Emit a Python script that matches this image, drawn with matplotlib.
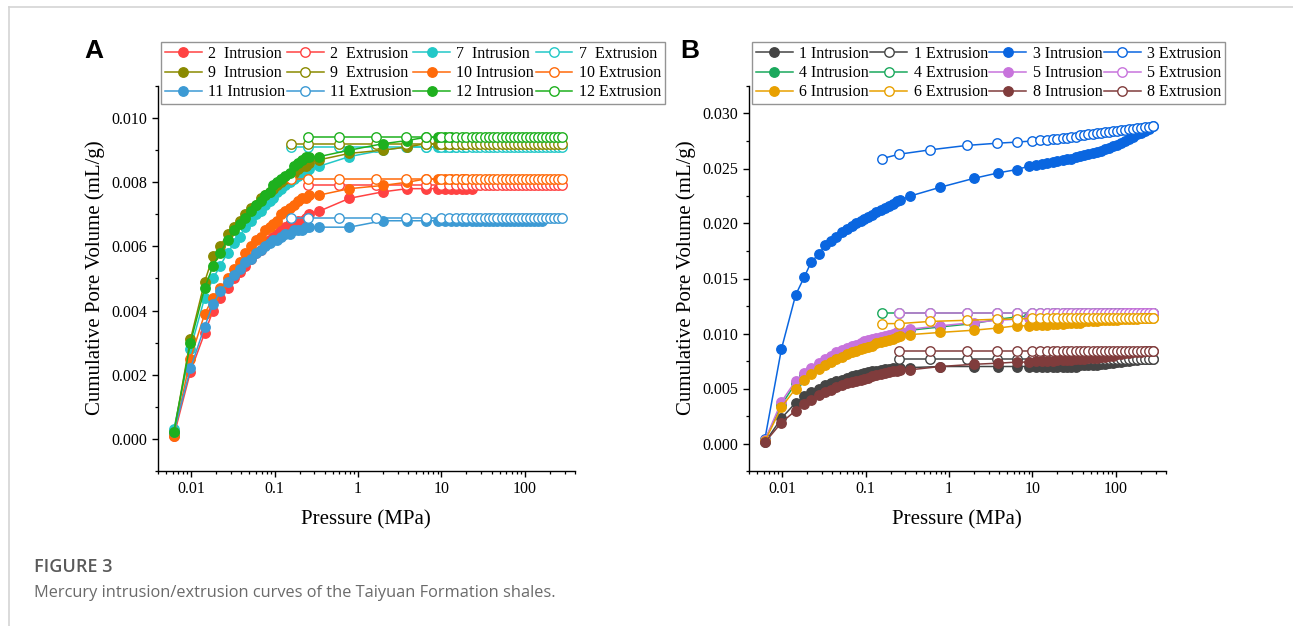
import matplotlib
matplotlib.use("Agg")
import matplotlib.pyplot as plt
from matplotlib.ticker import (FixedLocator, FixedFormatter, LogLocator,
                               NullFormatter, MultipleLocator, FormatStrFormatter)
from matplotlib.lines import Line2D

plt.rcParams['font.family'] = ['Liberation Serif', 'DejaVu Serif']

# pressure steps (MPa) of the intrusion and extrusion runs
P_IN = [0.0062, 0.0098, 0.0145, 0.0183, 0.0223, 0.0273, 0.0328, 0.038, 0.0445, 0.052, 0.0603, 0.0687,
        0.0773, 0.087, 0.097, 0.107, 0.119, 0.134, 0.151, 0.169, 0.191, 0.213, 0.238, 0.256,
        0.344, 0.79, 1.98, 3.88, 6.45, 9.0, 11.0, 13.0, 15.0, 17.5, 20.0, 23.0,
        26.0, 29.0, 33.0, 37.0, 42.0, 47.0, 53.0, 59.0, 66.0, 74.0, 83.0, 93.0,
        104.0, 116.0, 130.0, 145.0, 162.0, 180.0, 200.0, 222.0, 248.0, 280.0]
P_EX = [0.158, 0.253, 0.6, 1.65, 3.8, 6.5, 9.9, 12.5, 15.0, 17.5, 20.0, 23.0,
        26.0, 29.0, 33.0, 37.0, 42.0, 47.0, 53.0, 59.0, 66.0, 74.0, 83.0, 93.0,
        104.0, 116.0, 130.0, 145.0, 162.0, 180.0, 200.0, 222.0, 248.0, 280.0]

# ---- panel A (cumulative pore volume, mL/g) ----
A2_IN = [0.0001, 0.0021, 0.0033, 0.0040, 0.0044, 0.0047, 0.0050, 0.0052, 0.0054, 0.0056, 0.0058, 0.0059,
         0.0061, 0.0062, 0.0063, 0.0064, 0.0065, 0.0066, 0.0067, 0.0067, 0.0068, 0.0068, 0.0069, 0.0070,
         0.0071, 0.0075, 0.0077, 0.0078, 0.0078, 0.0078, 0.0078, 0.0078, 0.0078, 0.0078, 0.0078, 0.0078]
A2_EX = [0.0079, 0.0079, 0.0079, 0.0079, 0.0079, 0.0079, 0.0079, 0.0079, 0.0079, 0.0079, 0.0079,
         0.0079, 0.0079, 0.0079, 0.0079, 0.0079, 0.0079, 0.0079, 0.0079, 0.0079, 0.0079, 0.0079, 0.0079,
         0.0079, 0.0079, 0.0079, 0.0079, 0.0079, 0.0079, 0.0079, 0.0079, 0.0079, 0.0079]
A7_IN = [0.0003, 0.0028, 0.0044, 0.0050, 0.0054, 0.0058, 0.0061, 0.0063, 0.0066, 0.0068, 0.0070, 0.0071,
         0.0073, 0.0074, 0.0075, 0.0077, 0.0078, 0.0079, 0.0080, 0.0081, 0.0082, 0.0083, 0.0083, 0.0084,
         0.0085, 0.0088, 0.0090, 0.0091, 0.0091, 0.0091, 0.0091, 0.0091, 0.0091, 0.0091, 0.0091]
A7_EX = [0.0091, 0.0091, 0.0091, 0.0091, 0.0091, 0.0091, 0.0091, 0.0091, 0.0091, 0.0091, 0.0091, 0.0091,
         0.0091, 0.0091, 0.0091, 0.0091, 0.0091, 0.0091, 0.0091, 0.0091, 0.0091, 0.0091, 0.0091, 0.0091,
         0.0091, 0.0091, 0.0091, 0.0091, 0.0091, 0.0091, 0.0091, 0.0091, 0.0091, 0.0091]
A9_IN = [0.0002, 0.0031, 0.0049, 0.0057, 0.0060, 0.0064, 0.0066, 0.0068, 0.0070, 0.0072, 0.0073, 0.0075,
         0.0076, 0.0077, 0.0078, 0.0079, 0.0080, 0.0081, 0.0082, 0.0083, 0.0084, 0.0085, 0.0085, 0.0086,
         0.0087, 0.0089, 0.0090, 0.0091, 0.0092, 0.0092, 0.0092, 0.0092, 0.0092, 0.0092, 0.0092]
A9_EX = [0.0092, 0.0092, 0.0092, 0.0092, 0.0092, 0.0092, 0.0092, 0.0092, 0.0092, 0.0092, 0.0092, 0.0092,
         0.0092, 0.0092, 0.0092, 0.0092, 0.0092, 0.0092, 0.0092, 0.0092, 0.0092, 0.0092, 0.0092, 0.0092,
         0.0092, 0.0092, 0.0092, 0.0092, 0.0092, 0.0092, 0.0092, 0.0092, 0.0092, 0.0092]
A10_IN = [0.0001, 0.0025, 0.0039, 0.0044, 0.0047, 0.0050, 0.0053, 0.0055, 0.0058, 0.0060, 0.0062, 0.0063,
          0.0065, 0.0066, 0.0067, 0.0068, 0.0070, 0.0071, 0.0072, 0.0073, 0.0074, 0.0075, 0.0075, 0.0076,
          0.0076, 0.0078, 0.0079, 0.0080, 0.0081, 0.0081, 0.0081, 0.0081, 0.0081, 0.0081, 0.0081]
A10_EX = [0.0081, 0.0081, 0.0081, 0.0081, 0.0081, 0.0081, 0.0081, 0.0081, 0.0081, 0.0081, 0.0081, 0.0081,
          0.0081, 0.0081, 0.0081, 0.0081, 0.0081, 0.0081, 0.0081, 0.0081, 0.0081, 0.0081, 0.0081, 0.0081,
          0.0081, 0.0081, 0.0081, 0.0081, 0.0081, 0.0081, 0.0081, 0.0081, 0.0081, 0.0081]
A11_IN = [0.0002, 0.0022, 0.0035, 0.0042, 0.0046, 0.0049, 0.0051, 0.0053, 0.0055, 0.0056, 0.0058, 0.0059,
          0.0060, 0.0061, 0.0062, 0.0062, 0.0063, 0.0064, 0.0064, 0.0065, 0.0065, 0.0065, 0.0066, 0.0066,
          0.0066, 0.0066, 0.0068, 0.0068, 0.0068, 0.0068, 0.0068, 0.0068, 0.0068, 0.0068, 0.0068, 0.0068,
          0.0068, 0.0068, 0.0068, 0.0068, 0.0068, 0.0068, 0.0068, 0.0068, 0.0068, 0.0068, 0.0068, 0.0068,
          0.0068, 0.0068, 0.0068, 0.0068, 0.0068]
A11_EX = [0.0069, 0.0069, 0.0069, 0.0069, 0.0069, 0.0069, 0.0069, 0.0069, 0.0069, 0.0069, 0.0069, 0.0069,
          0.0069, 0.0069, 0.0069, 0.0069, 0.0069, 0.0069, 0.0069, 0.0069, 0.0069, 0.0069, 0.0069, 0.0069,
          0.0069, 0.0069, 0.0069, 0.0069, 0.0069, 0.0069, 0.0069, 0.0069, 0.0069, 0.0069]
A12_IN = [0.0002, 0.0030, 0.0047, 0.0054, 0.0058, 0.0062, 0.0065, 0.0067, 0.0069, 0.0071, 0.0073, 0.0074,
          0.0076, 0.0077, 0.0079, 0.0080, 0.0081, 0.0082, 0.0083, 0.0085, 0.0086, 0.0087, 0.0088, 0.0088,
          0.0088, 0.0090, 0.0092, 0.0093, 0.0094, 0.0094, 0.0094, 0.0094]
A12_EX = [0.0094, 0.0094, 0.0094, 0.0094, 0.0094, 0.0094, 0.0094, 0.0094, 0.0094, 0.0094, 0.0094,
          0.0094, 0.0094, 0.0094, 0.0094, 0.0094, 0.0094, 0.0094, 0.0094, 0.0094, 0.0094, 0.0094, 0.0094,
          0.0094, 0.0094, 0.0094, 0.0094, 0.0094, 0.0094, 0.0094, 0.0094, 0.0094, 0.0094]

# ---- panel B ----
B1_IN = [0.0001, 0.0023, 0.0037, 0.0043, 0.0047, 0.0050, 0.0053, 0.0055, 0.0057, 0.0058, 0.0060, 0.0061,
         0.0062, 0.0063, 0.0064, 0.0065, 0.0066, 0.0066, 0.0067, 0.0068, 0.0068, 0.0069, 0.0069, 0.0069,
         0.0069, 0.0070, 0.0070, 0.0070, 0.0070, 0.0070, 0.0070, 0.0070, 0.0070, 0.0070, 0.0070, 0.0070,
         0.0070, 0.0070, 0.0070, 0.0071, 0.0071, 0.0071, 0.0071, 0.0071, 0.0072, 0.0072, 0.0073, 0.0073,
         0.0074, 0.0074, 0.0075, 0.0075, 0.0076, 0.0076, 0.0077, 0.0077, 0.0077, 0.0077]
B1_EX = [0.0077, 0.0077, 0.0077, 0.0077, 0.0077, 0.0077, 0.0077, 0.0077, 0.0077, 0.0077, 0.0077, 0.0077,
         0.0077, 0.0077, 0.0077, 0.0077, 0.0077, 0.0077, 0.0077, 0.0077, 0.0077, 0.0077, 0.0077, 0.0077,
         0.0077, 0.0077, 0.0077, 0.0077, 0.0077, 0.0077, 0.0077, 0.0077, 0.0077]
B3_IN = [0.0004, 0.0086, 0.0135, 0.0151, 0.0165, 0.0172, 0.0180, 0.0184, 0.0188, 0.0192, 0.0195, 0.0198,
         0.0200, 0.0202, 0.0204, 0.0206, 0.0208, 0.0210, 0.0212, 0.0214, 0.0216, 0.0218, 0.0220, 0.0221,
         0.0225, 0.0233, 0.0241, 0.0246, 0.0249, 0.0252, 0.0253, 0.0254, 0.0255, 0.0256, 0.0257, 0.0258,
         0.0259, 0.0259, 0.0260, 0.0261, 0.0262, 0.0263, 0.0264, 0.0265, 0.0266, 0.0268, 0.0269, 0.0270,
         0.0271, 0.0273, 0.0275, 0.0277, 0.0279, 0.0281, 0.0282, 0.0284, 0.0286, 0.0289]
B3_EX = [0.0259, 0.0263, 0.0267, 0.0271, 0.0273, 0.0274, 0.0275, 0.0276, 0.0276, 0.0277, 0.0277, 0.0278,
         0.0278, 0.0279, 0.0279, 0.0280, 0.0280, 0.0281, 0.0281, 0.0282, 0.0282, 0.0283, 0.0283, 0.0284,
         0.0284, 0.0285, 0.0285, 0.0286, 0.0286, 0.0287, 0.0287, 0.0288, 0.0288, 0.0289]
B4_IN = [0.0003, 0.0035, 0.0055, 0.0062, 0.0067, 0.0071, 0.0075, 0.0078, 0.0081, 0.0083, 0.0085, 0.0087,
         0.0089, 0.0090, 0.0092, 0.0093, 0.0094, 0.0095, 0.0096, 0.0097, 0.0098, 0.0099, 0.0100, 0.0101,
         0.0103, 0.0106, 0.0109, 0.0113, 0.0115, 0.0116, 0.0116, 0.0116, 0.0117, 0.0117, 0.0117, 0.0117,
         0.0117, 0.0117, 0.0118, 0.0118, 0.0118, 0.0118, 0.0118, 0.0118, 0.0118, 0.0118, 0.0119, 0.0119,
         0.0119, 0.0119, 0.0119, 0.0119, 0.0119, 0.0119, 0.0119, 0.0119, 0.0119, 0.0119]
B4_EX = [0.0119, 0.0119, 0.0119, 0.0119, 0.0119, 0.0119, 0.0119, 0.0119, 0.0119, 0.0119, 0.0119, 0.0119,
         0.0119, 0.0119, 0.0119, 0.0119, 0.0119, 0.0119, 0.0119, 0.0119, 0.0119, 0.0119, 0.0119, 0.0119,
         0.0119, 0.0119, 0.0119, 0.0119, 0.0119, 0.0119, 0.0119, 0.0119, 0.0119, 0.0119]
B5_IN = [0.0003, 0.0038, 0.0057, 0.0064, 0.0069, 0.0073, 0.0077, 0.0080, 0.0083, 0.0085, 0.0087, 0.0089,
         0.0090, 0.0091, 0.0093, 0.0094, 0.0095, 0.0096, 0.0097, 0.0098, 0.0099, 0.0100, 0.0101, 0.0102,
         0.0104, 0.0107, 0.0110, 0.0112, 0.0113, 0.0114, 0.0114, 0.0114, 0.0115, 0.0115, 0.0115, 0.0115,
         0.0116, 0.0116, 0.0116, 0.0116, 0.0117, 0.0117, 0.0117, 0.0117, 0.0117, 0.0118, 0.0118, 0.0118,
         0.0118, 0.0118, 0.0119, 0.0119, 0.0119, 0.0119, 0.0119, 0.0119, 0.0119, 0.0119]
B5_EX = [0.0119, 0.0119, 0.0119, 0.0119, 0.0119, 0.0119, 0.0119, 0.0119, 0.0119, 0.0119, 0.0119,
         0.0119, 0.0119, 0.0119, 0.0119, 0.0119, 0.0119, 0.0119, 0.0119, 0.0119, 0.0119, 0.0119, 0.0119,
         0.0119, 0.0119, 0.0119, 0.0119, 0.0119, 0.0119, 0.0119, 0.0119, 0.0119, 0.0119]
B6_IN = [0.0002, 0.0033, 0.0050, 0.0058, 0.0063, 0.0068, 0.0071, 0.0074, 0.0077, 0.0079, 0.0081, 0.0083,
         0.0084, 0.0086, 0.0087, 0.0088, 0.0089, 0.0091, 0.0092, 0.0093, 0.0094, 0.0095, 0.0097, 0.0098,
         0.0099, 0.0101, 0.0103, 0.0105, 0.0107, 0.0107, 0.0108, 0.0108, 0.0108, 0.0109, 0.0109, 0.0109,
         0.0110, 0.0110, 0.0110, 0.0110, 0.0111, 0.0111, 0.0111, 0.0111, 0.0112, 0.0112, 0.0112, 0.0112,
         0.0112, 0.0113, 0.0113, 0.0113, 0.0113, 0.0113, 0.0114, 0.0114, 0.0114, 0.0114]
B6_EX = [0.0109, 0.0109, 0.0111, 0.0112, 0.0113, 0.0113, 0.0114, 0.0114, 0.0114, 0.0114, 0.0114, 0.0114,
         0.0114, 0.0114, 0.0114, 0.0114, 0.0114, 0.0114, 0.0114, 0.0114, 0.0114, 0.0114, 0.0114, 0.0114,
         0.0114, 0.0114, 0.0114, 0.0114, 0.0114, 0.0114, 0.0114, 0.0114, 0.0114, 0.0114]
B8_IN = [0.0001, 0.0019, 0.0030, 0.0036, 0.0040, 0.0044, 0.0047, 0.0049, 0.0051, 0.0053, 0.0055, 0.0056,
         0.0057, 0.0058, 0.0059, 0.0060, 0.0061, 0.0062, 0.0063, 0.0064, 0.0065, 0.0066, 0.0066, 0.0067,
         0.0067, 0.0070, 0.0072, 0.0073, 0.0074, 0.0074, 0.0075, 0.0075, 0.0075, 0.0075, 0.0076, 0.0076,
         0.0076, 0.0076, 0.0077, 0.0077, 0.0077, 0.0078, 0.0078, 0.0078, 0.0079, 0.0079, 0.0080, 0.0080,
         0.0081, 0.0081, 0.0082, 0.0082, 0.0083, 0.0083, 0.0083, 0.0084, 0.0084, 0.0084]
B8_EX = [0.0084, 0.0084, 0.0084, 0.0084, 0.0084, 0.0084, 0.0084, 0.0084, 0.0084, 0.0084, 0.0084,
         0.0084, 0.0084, 0.0084, 0.0084, 0.0084, 0.0084, 0.0084, 0.0084, 0.0084, 0.0084, 0.0084, 0.0084,
         0.0084, 0.0084, 0.0084, 0.0084, 0.0084, 0.0084, 0.0084, 0.0084, 0.0084, 0.0084]

A_NAMES = ["2  ", "7  ", "9  ", "10 ", "11 ", "12 "]
A_COLORS = ["#ff4242", "#22c8c8", "#8a8a00", "#ff6a0a", "#3c9ad4", "#1eb01e"]
A_IN = [A2_IN, A7_IN, A9_IN, A10_IN, A11_IN, A12_IN]
A_EX = [A2_EX, A7_EX, A9_EX, A10_EX, A11_EX, A12_EX]

B_NAMES = ["1 ", "3 ", "4 ", "5 ", "6 ", "8 "]
B_COLORS = ["#444444", "#0a66e0", "#1aa85c", "#c874dc", "#e8a000", "#803c3c"]
B_IN = [B1_IN, B3_IN, B4_IN, B5_IN, B6_IN, B8_IN]
B_EX = [B1_EX, B3_EX, B4_EX, B5_EX, B6_EX, B8_EX]

W, H = 1293, 626
fig = plt.figure(figsize=(W / 100, H / 100), dpi=100)
MS = 6.8


def px(x, y):
    return x / W, 1 - y / H


def draw_panel(ax, names, colors, ins, exs, ylim, major, minor):
    handles = []
    for name, c, yi, ye in zip(names, colors, ins, exs):
        ax.plot(P_IN[:len(yi)], yi, '-o', color=c, mfc=c, mec=c, ms=MS, lw=1.1, zorder=3)
        ax.plot(P_EX[-len(ye):], ye, '-o', color=c, mfc='white', mec=c, ms=MS, mew=1.0, lw=1.1, zorder=3)
        handles.append((Line2D([], [], color=c, marker='o', mfc=c, mec=c, ms=MS, lw=1.1),
                        name + "Intrusion"))
        handles.append((Line2D([], [], color=c, marker='o', mfc='white', mec=c, ms=MS, mew=1.0, lw=1.1),
                        name + "Extrusion"))
    ax.set_xscale('log')
    ax.set_xlim(0.004, 400)
    ax.set_ylim(*ylim)
    ax.xaxis.set_major_locator(FixedLocator([0.01, 0.1, 1, 10, 100]))
    ax.xaxis.set_major_formatter(FixedFormatter(["0.01", "0.1", "1", "10", "100"]))
    ax.xaxis.set_minor_locator(LogLocator(base=10, subs=(2, 3, 4, 5, 6, 7, 8, 9), numticks=20))
    ax.xaxis.set_minor_formatter(NullFormatter())
    ax.yaxis.set_major_locator(MultipleLocator(major))
    ax.yaxis.set_minor_locator(MultipleLocator(minor))
    ax.yaxis.set_major_formatter(FormatStrFormatter('%.3f'))
    for s in ['top', 'right']:
        ax.spines[s].set_visible(False)
    for s in ['left', 'bottom']:
        ax.spines[s].set_linewidth(1.0)
    ax.tick_params(which='major', direction='out', length=4.5, width=1.0, labelsize=11.5, pad=3)
    ax.tick_params(which='minor', direction='out', length=2.5, width=0.9)
    # legend is filled column by column, so reorder the row-wise list
    order = [r * 4 + col for col in range(4) for r in range(3)]
    return [handles[i][0] for i in order], [handles[i][1] for i in order]


axA = fig.add_axes([158 / W, 1 - 471 / H, (575 - 158) / W, (471 - 86) / H])
hA, lA = draw_panel(axA, A_NAMES, A_COLORS, A_IN, A_EX, (-0.001, 0.011), 0.002, 0.001)
axB = fig.add_axes([749 / W, 1 - 471 / H, (1166 - 749) / W, (471 - 86) / H])
hB, lB = draw_panel(axB, B_NAMES, B_COLORS, B_IN, B_EX, (-0.0025, 0.0325), 0.005, 0.0025)

leg_kw = dict(ncol=4, loc='upper left', fontsize=11.5, frameon=True, fancybox=False,
              edgecolor='#7a7a7a', borderpad=0.25, labelspacing=0.2, handlelength=2.3,
              handletextpad=0.4, columnspacing=0.1, borderaxespad=0)
legA = fig.legend(hA, lA, bbox_to_anchor=px(161, 42), **leg_kw)
legB = fig.legend(hB, lB, bbox_to_anchor=px(752, 42), **leg_kw)
for lg in (legA, legB):
    lg.get_frame().set_linewidth(1.0)

for cx, cy, ax_cx in [(95, 278, 366), (686, 278, 957)]:
    fig.text(*px(cx, cy), "Cumulative Pore Volume (mL/g)", rotation=90,
             ha='center', va='center', fontsize=15)
    fig.text(*px(ax_cx, 520), "Pressure (MPa)", ha='center', va='center', fontsize=15)

fig.text(*px(94, 51), "A", ha='center', va='center', fontsize=19, fontweight='bold',
         family='Liberation Sans')
fig.text(*px(690, 51), "B", ha='center', va='center', fontsize=19, fontweight='bold',
         family='Liberation Sans')

# caption below the figure
fig.text(*px(34, 567), "FIGURE 3", ha='left', va='center', fontsize=13,
         fontweight='semibold', color='#5a5a5a', family='Open Sans')
fig.text(*px(34, 593), "Mercury intrusion/extrusion curves of the Taiyuan Formation shales.",
         ha='left', va='center', fontsize=11.8, color='#6a6a6a', family='Open Sans')

# page frame lines
fig.add_artist(Line2D([9 / W, 1], [1 - 7 / H, 1 - 7 / H], color='#d4d4d4', lw=1.2))
fig.add_artist(Line2D([9 / W, 9 / W], [0, 1 - 7 / H], color='#d4d4d4', lw=1.2))

fig.savefig("out.png", dpi=100)
